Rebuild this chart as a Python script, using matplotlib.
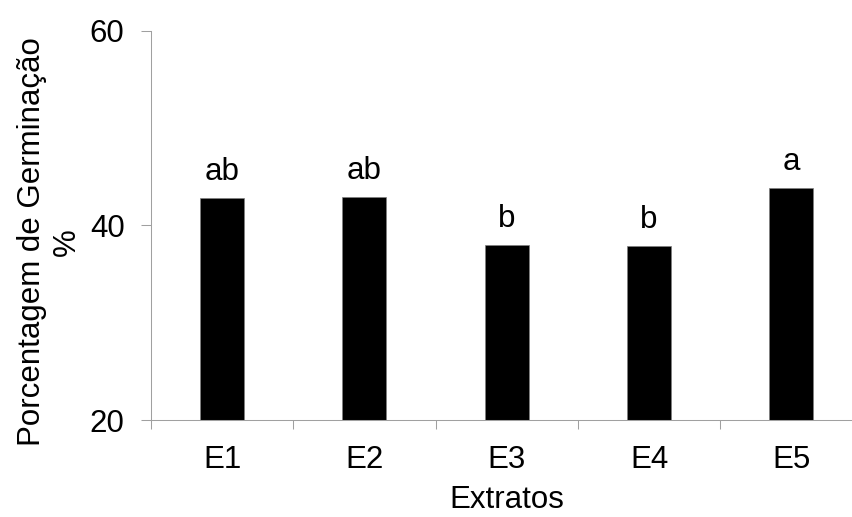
import matplotlib.pyplot as plt
import numpy as np

# Germination percentage per extract
extracts = ["E1", "E2", "E3", "E4", "E5"]
germination = [42.8, 42.9, 38.0, 37.9, 43.8]
letters = ["ab", "ab", "b", "b", "a"]

plt.rcParams["font.family"] = ["Liberation Sans", "DejaVu Sans"]
FS = 22.5

fig = plt.figure(figsize=(8.52, 5.17), dpi=100)
# axis runs past the right edge of the picture, as in the original
ax = fig.add_axes([0.1772, 0.1876, 0.8351, 0.753])

x = np.arange(len(extracts))
bars = ax.bar(x, germination, width=0.31, color="black", edgecolor="#808080", linewidth=0.5)

# significance letters above bars
for rect, lab in zip(bars, letters):
    ax.annotate(
        lab,
        xy=(rect.get_x() + rect.get_width() / 2, rect.get_height()),
        xytext=(0, 13),
        textcoords="offset points",
        ha="center",
        va="baseline",
        fontsize=FS,
    )

ax.set_ylim(20, 60)
ax.set_yticks([20, 40, 60])
ax.set_xlim(-0.5, 4.5)
ax.set_xticks(x)
ax.set_xticklabels(extracts)
ax.set_xticks(np.arange(-0.5, 4.6, 1.0), minor=True)
ax.tick_params(axis="x", which="major", length=0, pad=18, labelsize=FS)
ax.tick_params(axis="x", which="minor", length=6.5, width=0.75, color="#a0a0a0")
ax.tick_params(axis="y", length=7, width=0.75, color="#a0a0a0", pad=12, labelsize=FS)

for side in ["top", "right"]:
    ax.spines[side].set_visible(False)
for side in ["left", "bottom"]:
    ax.spines[side].set_color("#a0a0a0")
    ax.spines[side].set_linewidth(0.75)

ax.set_xlabel("Extratos", fontsize=FS, labelpad=7)
ax.set_ylabel("Porcentagem de Germinação\n%", fontsize=FS, linespacing=1.2)
ax.yaxis.set_label_coords(-0.0977, 0.4576)

fig.savefig("out.png", dpi=100)
